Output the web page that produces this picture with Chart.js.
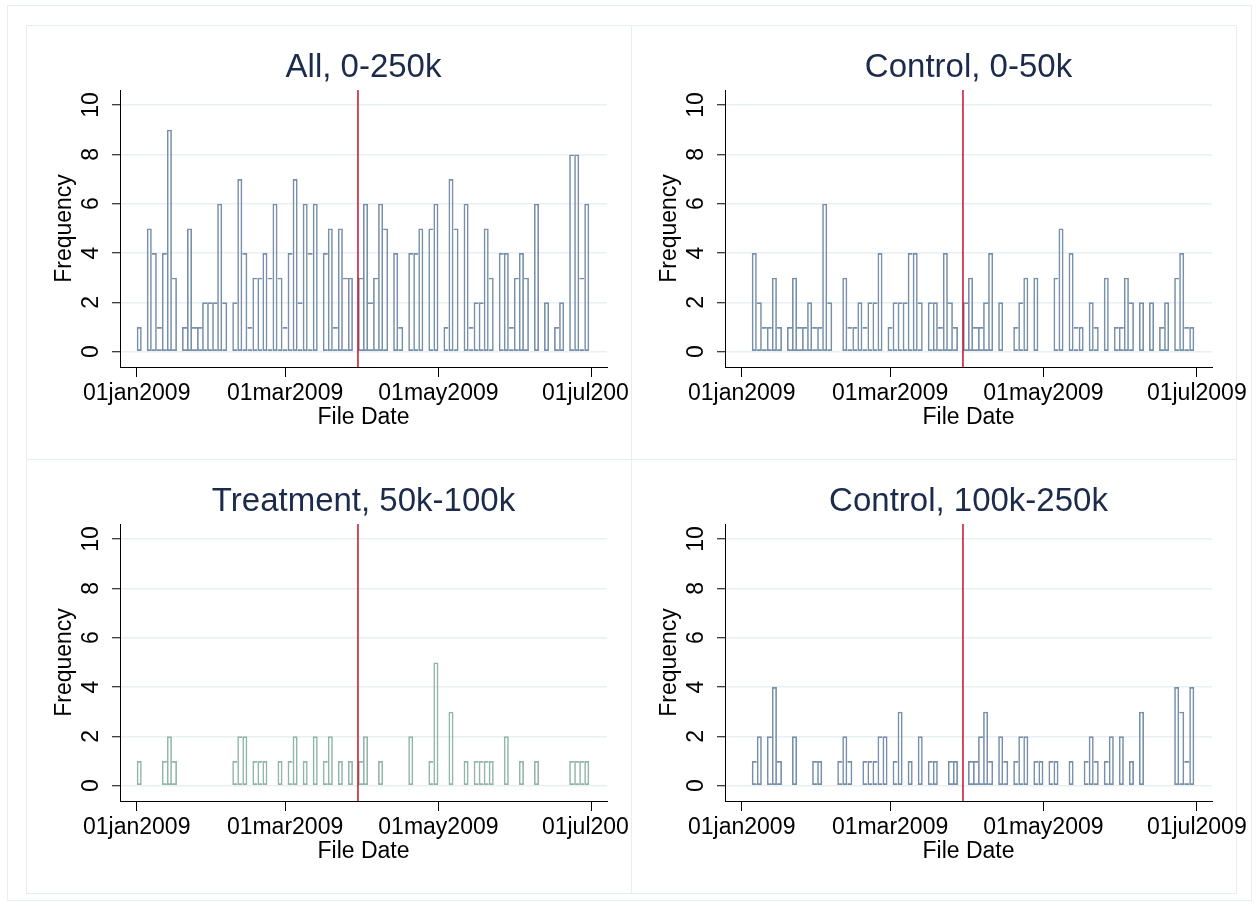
<!DOCTYPE html>
<html>
<head>
<meta charset="utf-8">
<script src="https://cdn.jsdelivr.net/npm/chart.js@4.4.0/dist/chart.umd.min.js"></script>
<style>
html,body{margin:0;padding:0;background:#fff;overflow:hidden;width:1258px;height:906px;}
.frame{position:absolute;box-sizing:border-box;border:1px solid #e6eef0;}
canvas{position:absolute;}
</style>
</head>
<body>
<div class="frame" style="left:7px;top:5px;width:1245px;height:896px"></div>
<div class="frame" style="left:26px;top:25px;width:606px;height:435px"></div>
<div class="frame" style="left:631px;top:25px;width:606px;height:435px"></div>
<div class="frame" style="left:26px;top:459px;width:606px;height:435px"></div>
<div class="frame" style="left:631px;top:459px;width:606px;height:435px"></div>
<canvas id="c1" width="603" height="434" style="left:26px;top:25px"></canvas>
<canvas id="c2" width="627" height="434" style="left:631px;top:25px"></canvas>
<canvas id="c3" width="603" height="434" style="left:26px;top:459px"></canvas>
<canvas id="c4" width="627" height="434" style="left:631px;top:459px"></canvas>
<script>
// ---- data (2-day histogram bins; day 0 = 01jan2009) ----
const panelTitles = ['All, 0-250k', 'Control, 0-50k', 'Treatment, 50k-100k', 'Control, 100k-250k'];
const xTickValues = [0, 59, 120, 181];
const xTickLabels = ['01jan2009', '01mar2009', '01may2009', '01jul2009'];
const yTickValues = [0, 2, 4, 6, 8, 10];
const cutoffDay = 88;
const binWidthDays = 2;
const leftBinStartDay = 0;
const rightBinStartDay = 4;

const allCounts = [1,0,5,4,1,4,9,3,0,1, 5,1,1,2,2,2,6,2,0,2, 7,4,1,3,3,4,3,6,3,1, 4,7,2,6,4,6,0,4,5,1,
  5,3,3,0,3,6,2,3,6,5, 0,4,1,0,4,4,5,0,5,6, 0,1,7,5,0,6,1,2,2,5, 3,0,4,4,1,3,4,3,0,6, 0,2,0,1,2,0,8,8,3,6];
const control050Counts = [4,2,1,1,3,1,0,1,3,1, 1,2,1,1,6,2,0,0,3,1, 1,2,1,2,2,4,0,1,2,2, 2,4,4,2,0,2,2,1,4,2,
  1,0,2,3,1,1,2,4,0,2, 0,0,1,2,3,0,3,0,0,0, 3,5,0,4,1,1,0,2,1,0, 3,0,1,1,3,2,0,2,0,2, 0,1,2,0,3,4,1,1];
const treatmentCounts = [1,0,0,0,0,1,2,1,0,0, 0,0,0,0,0,0,0,0,0,1, 2,2,0,1,1,1,0,0,1,0, 1,2,0,1,0,2,0,1,2,0,
  1,0,1,0,1,2,0,0,1,0, 0,0,0,0,2,0,0,0,1,5, 0,0,3,0,0,1,0,1,1,1, 1,0,0,2,0,0,1,0,0,1, 0,0,0,0,0,0,1,1,1,1];
const control100250Counts = [1,2,0,2,4,1,0,0,2,0, 0,0,1,1,0,0,0,1,2,1, 0,0,1,1,1,2,2,0,1,3, 0,1,0,2,0,1,1,0,0,1,
  1,0,0,1,1,2,3,1,0,2, 1,0,1,2,2,0,1,1,0,1, 1,0,0,1,0,0,1,2,1,0, 1,2,0,2,0,1,0,3,0,0, 0,0,0,0,4,3,1,4];

// ---- style ----
const blueBar = '#7890aa';
const greenBar = '#93b6aa';
const cutoffColor = '#c8102e';
const gridColor = '#e8f0f2';
const titleColor = '#1c2b4b';
const xMin = -6.65, xMax = 187.05, yMin = -0.62, yMax = 10.61;

Chart.defaults.font.family = "'Liberation Sans', Arial, sans-serif";

function edgeWidths(ctx) {
  const d = ctx.dataset.counts, i = ctx.dataIndex, w = 1.6;
  const v = d[i] || 0;
  const prev = i > 0 ? d[i - 1] : 0;
  const next = i < d.length - 1 ? d[i + 1] : 0;
  return { top: w, bottom: w, left: prev <= v ? w : 0, right: next < v ? w : 0 };
}

function makeChart(id, title, counts, startDay, color, rightPad) {
  const pts = counts.map((c, i) => ({ x: startDay + binWidthDays * i + binWidthDays / 2, y: c === 0 ? null : c }));
  return new Chart(document.getElementById(id), {
    type: 'bar',
    data: {
      datasets: [
        { type: 'line', data: [{ x: cutoffDay, y: yMin }, { x: cutoffDay, y: yMax }],
          borderColor: cutoffColor, borderWidth: 1.5, pointRadius: 0, order: 0 },
        { type: 'bar', data: pts, counts: counts, backgroundColor: 'rgba(0,0,0,0)', borderColor: color,
          borderWidth: edgeWidths, borderSkipped: false, barPercentage: 1, categoryPercentage: 1,
          inflateAmount: 0, order: 1 }
      ]
    },
    options: {
      responsive: false, animation: false, devicePixelRatio: 1,
      layout: { padding: { left: 0, right: rightPad, top: 0, bottom: 0 } },
      plugins: {
        legend: { display: false }, tooltip: { enabled: false },
        title: { display: true, text: title, fullSize: false, color: titleColor,
          font: { size: 33, weight: 'normal', lineHeight: 1 }, padding: { top: 26, bottom: 6 } }
      },
      scales: {
        x: {
          type: 'linear', min: xMin, max: xMax, offset: false,
          afterBuildTicks: s => { s.ticks = xTickValues.map(v => ({ value: v })); },
          afterFit: s => { s.height = 92; s.paddingLeft = 0; s.paddingRight = 0; },
          grid: { offset: false, drawOnChartArea: false, drawTicks: true, tickLength: 10, tickColor: '#000', tickWidth: 1 },
          border: { display: true, color: '#000', width: 1 },
          ticks: { autoSkip: false, maxRotation: 0, minRotation: 0, padding: 5.5, color: '#000',
            font: { size: 23, lineHeight: 1 }, callback: (v, i) => xTickLabels[i] },
          title: { display: true, text: 'File Date', color: '#000', font: { size: 23, lineHeight: 1 },
            padding: { top: 0, bottom: 29.5 } }
        },
        y: {
          type: 'linear', min: yMin, max: yMax,
          afterBuildTicks: s => { s.ticks = yTickValues.map(v => ({ value: v })); },
          afterFit: s => { s.width = 94; s.paddingTop = 0; s.paddingBottom = 0; },
          grid: { offset: false, color: gridColor, lineWidth: 1.5, drawTicks: true, tickLength: 8, tickColor: '#000', tickWidth: 1 },
          border: { display: true, color: '#000', width: 1 },
          ticks: { minRotation: 90, maxRotation: 90, crossAlign: 'center', padding: 7.2, color: '#000',
            font: { size: 23, lineHeight: 1 }, callback: v => String(v) },
          title: { display: true, text: 'Frequency', color: '#000', font: { size: 23, lineHeight: 1 },
            padding: { top: 27.5, bottom: 0 } }
        }
      }
    }
  });
}

makeChart('c1', panelTitles[0], allCounts, leftBinStartDay, blueBar, 22);
makeChart('c2', panelTitles[1], control050Counts, rightBinStartDay, blueBar, 46);
makeChart('c3', panelTitles[2], treatmentCounts, leftBinStartDay, greenBar, 22);
makeChart('c4', panelTitles[3], control100250Counts, rightBinStartDay, blueBar, 46);
</script>
</body>
</html>
